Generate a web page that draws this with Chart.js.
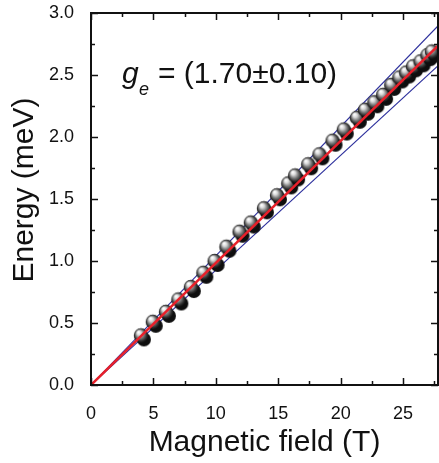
<!DOCTYPE html>
<html><head><meta charset="utf-8">
<script src="https://cdn.jsdelivr.net/npm/chart.js@4"></script>
<style>
html,body{margin:0;padding:0;overflow:hidden;background:#fff;}
#c{display:block;}
</style></head><body>
<canvas id="c" width="446" height="463" style="width:446px;height:463px"></canvas>
<script>
// ---- data ----
const fieldT    = [4.0, 4.95, 6.0, 7.0, 8.0, 9.0, 9.9, 10.85, 11.9, 12.8, 13.85, 14.9, 15.8, 16.35, 17.4, 18.3, 19.35, 20.25, 21.3, 21.95, 22.7, 23.4, 24.05, 24.7, 25.25, 25.8, 26.4, 26.95, 27.3];
const energyMeV = [0.40, 0.51, 0.59, 0.69, 0.79, 0.905, 1.0, 1.115, 1.236, 1.31, 1.425, 1.53, 1.626, 1.69, 1.78, 1.86, 1.97, 2.06, 2.155, 2.22, 2.28, 2.34, 2.42, 2.48, 2.52, 2.57, 2.61, 2.66, 2.69];
const fitField    = [0, 28];
const fitEnergy   = [0, 2.755];   // g = 1.70
const upperEnergy = [0, 2.917];   // g = 1.80
const lowerEnergy = [0, 2.593];   // g = 1.60
const xTickValues = [0, 5, 10, 15, 20, 25];
const xTickLabels = ['0', '5', '10', '15', '20', '25'];
const yTickValues = [0, 0.5, 1.0, 1.5, 2.0, 2.5, 3.0];
const yTickLabels = ['0.0', '0.5', '1.0', '1.5', '2.0', '2.5', '3.0'];
const xTitle = 'Magnetic field (T)';
const yTitle = 'Energy (meV)';
const gSymbol = 'g';
const gSub = 'e';
const gValue = '= (1.70\u00B10.10)';

const FONT = '"Liberation Sans", Arial, Helvetica, sans-serif';
const X_MIN = 0, X_MAX = 27.8, Y_MIN = 0, Y_MAX = 3.0;

function makeBall() {
  const c = document.createElement('canvas');
  c.width = 30; c.height = 30;
  const g = c.getContext('2d');
  g.fillStyle = '#0e0e0e';
  g.beginPath(); g.arc(18, 19, 7, 0, Math.PI * 2); g.fill();
  const gr = g.createRadialGradient(12.5, 11.5, 0.5, 15, 15, 7.3);
  gr.addColorStop(0, '#ffffff');
  gr.addColorStop(0.25, '#dadada');
  gr.addColorStop(0.55, '#7c7c7c');
  gr.addColorStop(0.85, '#2a2a2a');
  gr.addColorStop(1, '#141414');
  g.fillStyle = gr;
  g.beginPath(); g.arc(15, 15, 7.2, 0, Math.PI * 2); g.fill();
  return c;
}
const ball = makeBall();

const pts = fieldT.map((x, i) => ({x: x, y: energyMeV[i]}));
const line = (ys) => fitField.map((x, i) => ({x: x, y: ys[i]}));

const framePlugin = {
  id: 'frame',
  afterDraw(chart) {
    const {ctx, chartArea: a, scales: {x, y}} = chart;
    ctx.save();
    ctx.strokeStyle = '#111';
    ctx.lineWidth = 2;
    ctx.strokeRect(a.left, a.top, a.right - a.left, a.bottom - a.top);
    ctx.lineWidth = 1.5;
    ctx.beginPath();
    for (let v = 0; v <= X_MAX + 1e-9; v += 2.5) {
      const px = Math.round(x.getPixelForValue(v)) + 0.5;
      const len = (Math.abs(v / 5 - Math.round(v / 5)) < 1e-6) ? 7 : 4;
      ctx.moveTo(px, a.bottom); ctx.lineTo(px, a.bottom - len);
      ctx.moveTo(px, a.top); ctx.lineTo(px, a.top + len);
    }
    for (let v = 0; v <= Y_MAX + 1e-9; v += 0.25) {
      const py = Math.round(y.getPixelForValue(v)) + 0.5;
      const len = (Math.abs(v / 0.5 - Math.round(v / 0.5)) < 1e-6) ? 7 : 4;
      ctx.moveTo(a.left, py); ctx.lineTo(a.left + len, py);
      ctx.moveTo(a.right, py); ctx.lineTo(a.right - len, py);
    }
    ctx.stroke();

    // y-axis title
    ctx.fillStyle = '#111';
    ctx.font = '30px ' + FONT;
    ctx.textAlign = 'center';
    ctx.textBaseline = 'middle';
    ctx.translate(24.6, 190);
    ctx.rotate(-Math.PI / 2);
    ctx.fillText(yTitle, 0, 0);
    ctx.setTransform(1, 0, 0, 1, 0, 0);

    // g_e annotation
    ctx.textAlign = 'left';
    ctx.textBaseline = 'alphabetic';
    ctx.font = 'italic 30px ' + FONT;
    ctx.fillText(gSymbol, 122, 83);
    ctx.font = 'italic 18px ' + FONT;
    ctx.fillText(gSub, 139, 95);
    ctx.font = '30px ' + FONT;
    ctx.fillText(gValue, 158, 83);
    ctx.restore();
  }
};

new Chart(document.getElementById('c'), {
  type: 'scatter',
  data: {
    datasets: [
      {label: 'fit', data: line(fitEnergy), showLine: true, borderColor: '#e8202a', borderWidth: 2.5, pointRadius: 0, order: 0},
      {label: 'data', data: pts, pointStyle: ball, pointRadius: 7, order: 1},
      {label: 'upper', data: line(upperEnergy), showLine: true, borderColor: '#2c2f9c', borderWidth: 1.1, pointRadius: 0, order: 2},
      {label: 'lower', data: line(lowerEnergy), showLine: true, borderColor: '#2c2f9c', borderWidth: 1.1, pointRadius: 0, order: 2}
    ]
  },
  options: {
    responsive: false,
    devicePixelRatio: 1,
    animation: false,
    events: [],
    layout: {padding: {top: 13, right: 2, left: 0, bottom: 0}},
    plugins: {legend: {display: false}, tooltip: {enabled: false}},
    scales: {
      x: {
        type: 'linear', min: X_MIN, max: X_MAX,
        grid: {display: false},
        border: {display: false},
        afterBuildTicks(s) { s.ticks = xTickValues.map(v => ({value: v})); },
        afterFit(s) { s.height = 78; s.paddingLeft = 0; s.paddingRight = 0; },
        ticks: {
          autoSkip: false, maxRotation: 0, padding: 10,
          color: '#111', font: {family: FONT, size: 18},
          callback: (v) => { const i = xTickValues.indexOf(v); return i >= 0 ? xTickLabels[i] : ''; }
        },
        title: {display: true, text: xTitle, color: '#111', font: {family: FONT, size: 30, lineHeight: 1}, padding: {top: 0, bottom: 5}}
      },
      y: {
        type: 'linear', min: Y_MIN, max: Y_MAX,
        grid: {display: false},
        border: {display: false},
        afterBuildTicks(s) { s.ticks = yTickValues.map(v => ({value: v})); },
        afterFit(s) { s.width = 91; s.paddingTop = 0; s.paddingBottom = 0; },
        ticks: {
          autoSkip: false, padding: 9,
          color: '#111', font: {family: FONT, size: 18},
          callback: (v) => { const i = yTickValues.indexOf(v); return i >= 0 ? yTickLabels[i] : ''; }
        }
      }
    }
  },
  plugins: [framePlugin]
});
</script>
</body></html>
